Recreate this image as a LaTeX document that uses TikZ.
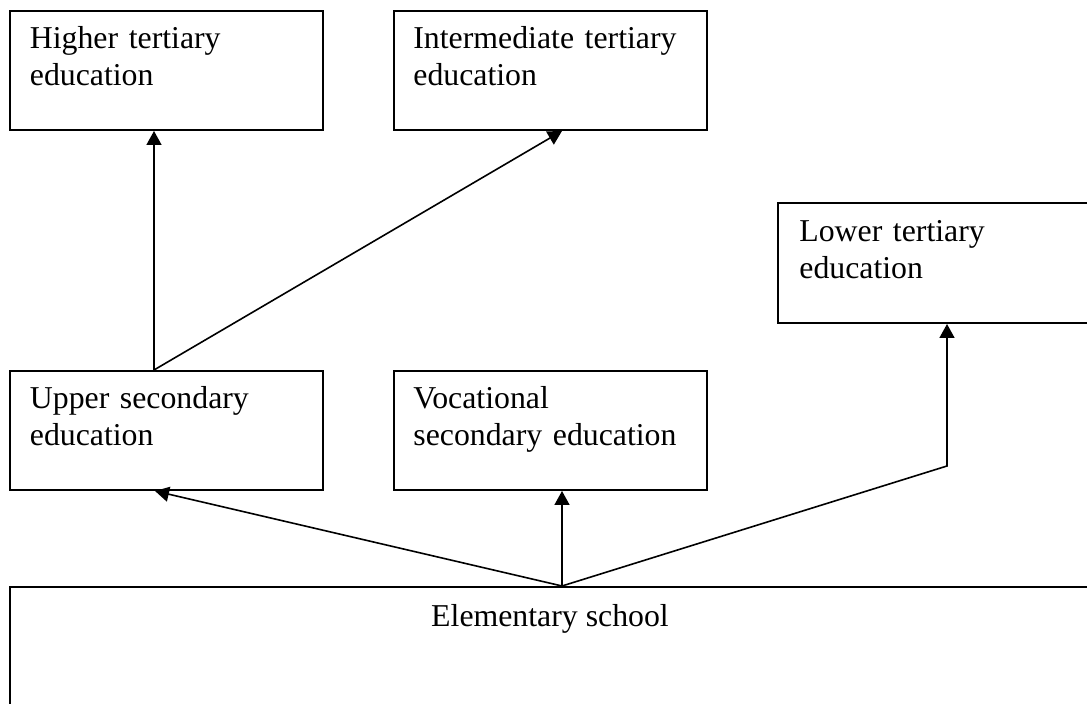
\documentclass[tikz,border=0pt]{standalone}
\usepackage{fontspec}
\setmainfont{Liberation Serif}
\usetikzlibrary{arrows.meta, calc}

\begin{document}
\begin{tikzpicture}[x=0.5pt, y=-0.5pt,
		box/.style={draw, rectangle, line width=1pt, inner sep=0pt, minimum width=156.5pt, minimum height=59.5pt},
		txt/.style={anchor=base west, inner sep=0pt, text width=136pt, align=left, font=\fontsize{15.9}{18.5}\selectfont},
		arr/.style={line width=0.8pt, -{Triangle[length=7pt, width=7.5pt]}}]
			\clip (0,0) rectangle (1087,704);
			
			\node(higher) [box] at (166,70.5){};
			\node(inter) [box] at (550.5,70.5){};
			\node(lower) [box, minimum height=60pt] at (934.5,263){};
			\node(upper) [box] at (166,430.5){};
			\node(voc) [box] at (550.5,430.5){};
			\node(elem) [box, minimum width=540pt, minimum height=76.5pt] at (550,663.5){};
			
			\node(higherT) [txt] at ($(higher.north west)+(21,39)$){Higher tertiary\\education};
			\node(interT) [txt] at ($(inter.north west)+(20,39)$){Intermediate tertiary\\education};
			\node(lowerT) [txt] at ($(lower.north west)+(22,40)$){Lower tertiary\\education};
			\node(upperT) [txt] at ($(upper.north west)+(21,39)$){Upper secondary\\education};
			\node(vocT) [txt] at ($(voc.north west)+(20,39)$){Vocational\\secondary education};
			\node(elemT) [txt, anchor=base, text width=, align=center] at ([yshift=-20.5pt]elem.north){Elementary school};
			
			\coordinate(fork) at ([xshift=-6pt]upper.north);
			\coordinate(hub) at ([xshift=6pt]elem.north);
			
			\draw[arr] (fork)--([xshift=-6pt]higher.south);
			\draw[arr] (fork)--([xshift=5.75pt]inter.south);
			\draw[arr] (hub)--([xshift=-5.5pt]upper.south);
			\draw[arr] (hub)--([xshift=5.75pt]voc.south);
			\draw[arr] (hub)--++(385,-120)--([xshift=6.25pt]lower.south);
			
		\end{tikzpicture}
\end{document}
